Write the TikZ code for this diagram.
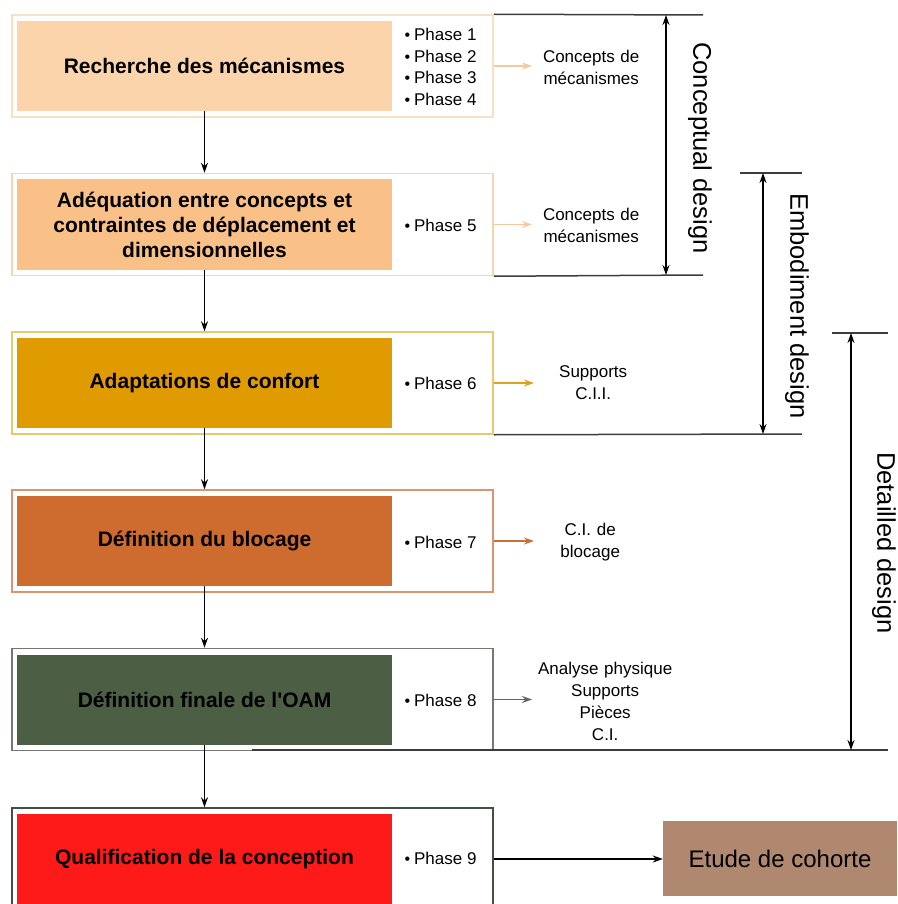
\documentclass[tikz,border=0pt]{standalone}
\usepackage{fontspec}
\setmainfont{Liberation Sans}
\usepackage{xcolor}
\usetikzlibrary{arrows.meta,positioning}
\definecolor{fillA}{RGB}{251,212,172}
\definecolor{lineA}{RGB}{246,224,198}
\definecolor{fillB}{RGB}{249,192,135}
\definecolor{lineB}{RGB}{244,214,176}
\definecolor{fillC}{RGB}{224,155,0}
\definecolor{lineC}{RGB}{230,202,112}
\definecolor{fillD}{RGB}{205,108,46}
\definecolor{lineD}{RGB}{214,150,110}
\definecolor{fillE}{RGB}{76,94,68}
\definecolor{lineE}{RGB}{112,122,112}
\definecolor{fillF}{RGB}{255,26,26}
\definecolor{lineF}{RGB}{62,82,62}
\definecolor{etude}{RGB}{176,136,112}
\definecolor{arrA}{RGB}{246,200,160}
\definecolor{arrC}{RGB}{222,160,30}
\definecolor{arrD}{RGB}{200,112,52}
\definecolor{arrE}{RGB}{92,106,88}
\definecolor{bracket}{RGB}{60,60,60}
\newcommand{\phs}[1]{{\fontsize{16}{16}\selectfont\textbullet}\kern4pt Phase #1}

\begin{document}
\begin{tikzpicture}[x=1pt,y=-1pt,>={Stealth[length=10pt,width=7pt]},
 frame/.style={draw,line width=1.5pt,minimum width=481,minimum height=102,inner sep=0},
 stage/.style={minimum width=375,minimum height=90,inner sep=0,align=center,
   font=\fontsize{21}{25}\selectfont\bfseries},
 phase/.style={anchor=west,align=left,font=\fontsize{17}{21.7}\selectfont},
 output/.style={anchor=west,inner sep=0,align=center,font=\fontsize{17}{22}\selectfont},
 bline/.style={bracket,line width=1.5pt},
 dim/.style={{Stealth[length=10pt,width=7pt]}-{Stealth[length=10pt,width=7pt]},line width=1.2pt},
 vlabel/.style={rotate=-90,font=\fontsize{25.5}{30}\selectfont}]
\useasboundingbox (0,0) rectangle (897,904);
\node[frame,draw=lineA] (f1) at (252.5,66) {};
\node[frame,draw=lineB] (f2) at (252.5,224.5) {};
\node[frame,draw=lineC] (f3) at (252.5,383) {};
\node[frame,draw=lineD] (f4) at (252.5,541) {};
\node[frame,draw=lineE] (f5) at (252.5,699.5) {};
\node[frame,draw=lineF] (f6) at (252.5,859) {};
\node[stage,fill=fillA] (b1) at (204.5,66) {Recherche des mécanismes};
\node[stage,fill=fillB] (b2) at (204.5,224.5) {Adéquation entre concepts et\\contraintes de déplacement et\\dimensionnelles};
\node[stage,fill=fillC] (b3) at (204.5,383) {Adaptations de confort};
\node[stage,fill=fillD] (b4) at (204.5,541) {Définition du blocage};
\node[stage,fill=fillE] (b5) at (204.5,699.5) {Définition finale de l\textquotesingle OAM};
\node[stage,fill=fillF] (b6) at (204.5,859) {Qualification de la conception};
\node[phase] (p1) at (401,67) {\phs{1}\\\phs{2}\\\phs{3}\\\phs{4}};
\node[phase] (p2) at (401,225) {\phs{5}};
\node[phase] (p3) at (401,383) {\phs{6}};
\node[phase] (p4) at (401,542) {\phs{7}};
\node[phase] (p5) at (401,700) {\phs{8}};
\node[phase] (p6) at (401,858) {\phs{9}};
\node[output,text width=118] (o1) at (532,67) {Concepts de\\mécanismes};
\node[output,text width=118] (o2) at (532,225) {Concepts de\\mécanismes};
\node[output,text width=118] (o3) at (534,383) {Supports\\C.I.I.};
\node[output,text width=112] (o4) at (534,542) {C.I. de\\blocage};
\node[output,text width=146] (o5) at (532,701) {Analyse physique\\Supports\\Pièces\\C.I.};
\node[fill=etude,minimum width=234,minimum height=75,inner sep=0,
  font=\fontsize{24}{28}\selectfont] (etude) at (780,858.5) {Etude de cohorte};
\draw[->,line width=1.2pt] (b1.south) -- (b1.south |- f2.north);
\draw[->,line width=1.2pt] (b2.south) -- (b2.south |- f3.north);
\draw[->,line width=1.2pt] (b3.south) -- (b3.south |- f4.north);
\draw[->,line width=1.2pt] (b4.south) -- (b4.south |- f5.north);
\draw[->,line width=1.2pt] (b5.south) -- (b5.south |- f6.north);
\draw[->,arrA,line width=1.2pt] (f1.east) -- (f1.east -| o1.west);
\draw[->,arrA,line width=1.2pt] (f2.east) -- (f2.east -| o2.west);
\draw[->,arrC,line width=1.5pt] (f3.east) -- (f3.east -| o3.west);
\draw[->,arrD,line width=1.5pt] (f4.east) -- (f4.east -| o4.west);
\draw[->,arrE,line width=1.5pt] (f5.east) -- (f5.east -| o5.west);
\draw[->,line width=1.5pt] (f6.east) -- (f6.east -| etude.west);
\coordinate (ct) at (703,15);
\coordinate (cb) at (703,275);
\coordinate (et) at (802,173);
\coordinate (eb) at (802,434);
\coordinate (dt) at (888,333);
\coordinate (db) at (888,750);
\draw[bline] (f1.north east) -- (ct);
\draw[bline] (f2.south east) -- (cb);
\draw[dim] ([xshift=-37]ct) -- ([xshift=-37]cb);
\node[vlabel] (lc) at (700,148) {Conceptual design};
\draw[bline] ([xshift=-62]et) -- (et);
\draw[bline] (f3.south east) -- (eb);
\draw[dim] ([xshift=-39]et) -- ([xshift=-39]eb);
\node[vlabel] (le) at (797,306) {Embodiment design};
\draw[bline] ([xshift=-56]dt) -- (dt);
\draw[bline] (252,750) -- (db);
\draw[dim] ([xshift=-37]dt) -- ([xshift=-37]db);
\node[vlabel] (ld) at (884,543) {Detailled design};
\end{tikzpicture}
\end{document}
